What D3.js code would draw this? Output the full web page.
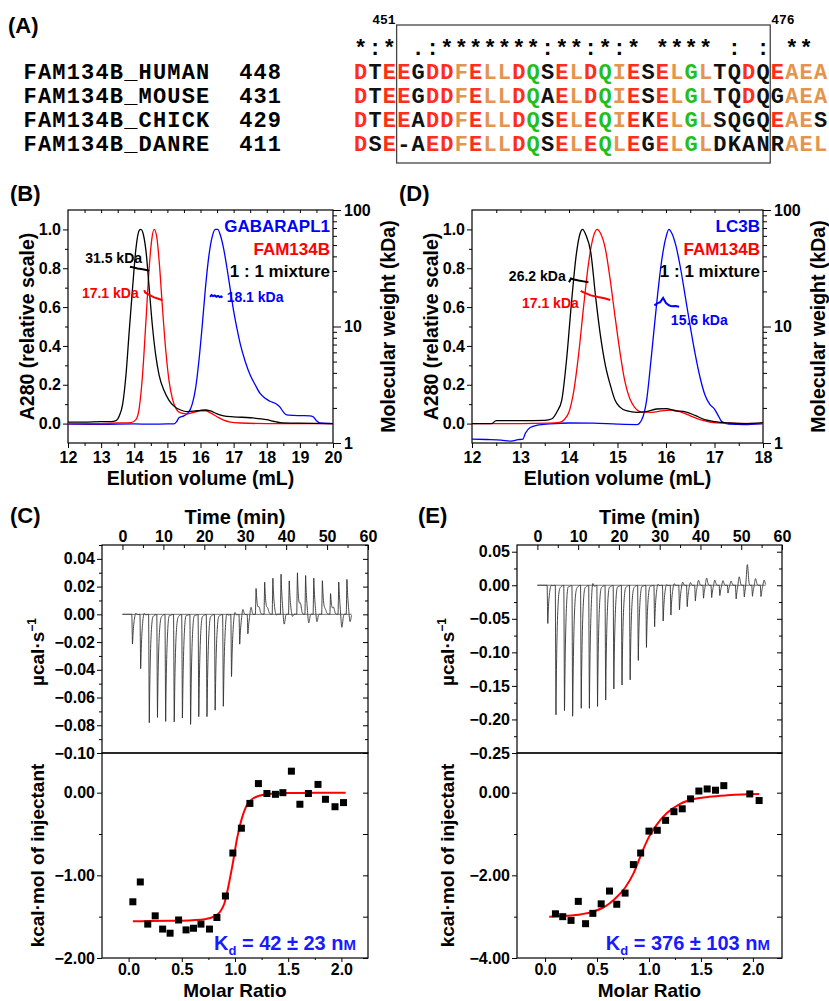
<!DOCTYPE html>
<html>
<head>
<meta charset="utf-8">
<script src="https://cdn.jsdelivr.net/npm/d3@7"></script>
<style>
  html, body { margin: 0; padding: 0; background: #fff; }
  svg { display: block; font-family: 'Liberation Sans', Arial, sans-serif; font-weight: bold; }
  .axis line { stroke: #000; stroke-width: 1; }
  .axis text { font-family: 'Liberation Sans', Arial, sans-serif; font-size: 16px; font-weight: bold; fill: #000; }
  .mono { font-family: 'Liberation Mono', 'Courier New', monospace; font-weight: bold; }
</style>
</head>
<body>
<svg id="fig" width="829" height="1001"></svg>
<script>
// ---- (A) alignment ----
const seqNames = ['FAM134B_HUMAN', 'FAM134B_MOUSE', 'FAM134B_CHICK', 'FAM134B_DANRE'];
const seqStarts = [448, 431, 429, 411];
const seqs = [
  'DTEEGDDFELLDQSELDQIESELGLTQDQEAEA',
  'DTEEGDDFELLDQAELDQIESELGLTQDQGAEA',
  'DTEEADDFELLDQSELEQIEKELGLSQGQEAES',
  'DSE-AEDFELLDQSELEQLEGELGLDKANRAEL',
];
// r red, o orange, g green, k black
const seqColors = [
  'rkrrkrroroorgkrorgorkrogokkrkrooo',
  'rkrrkrroroorgkrorgorkrogokkrkkooo',
  'rkrrkrroroorgkrorgorkrogokkkkrook',
  'rkrkkrroroorgkrorgorkrogokkkkkooo',
];
const conservation = '*:* .:*******:**:*:* **** : : ** ';
const boxRange = [451, 476];

// ---- (B) / (D) SEC-MALS ----
const volTicksB = [12, 13, 14, 15, 16, 17, 18, 19, 20];
const volTicksD = [12, 13, 14, 15, 16, 17, 18];
const absTicks = [0, 0.2, 0.4, 0.6, 0.8, 1.0];
const absMinor = [0.1, 0.3, 0.5, 0.7, 0.9];
const mwTicks = [1, 10, 100];
const mwMinor = [2, 3, 4, 5, 6, 7, 8, 9, 20, 30, 40, 50, 60, 70, 80, 90];

const bMix = [[12, 0.008], [12.5, 0.008], [13, 0.01], [13.3, 0.01], [13.45, 0.015], [13.55, 0.04], [13.65, 0.1], [13.75, 0.25], [13.85, 0.48], [13.95, 0.7], [14.05, 0.9], [14.15, 0.995], [14.2, 1.0], [14.28, 0.97], [14.36, 0.88], [14.45, 0.7], [14.55, 0.5], [14.65, 0.35], [14.75, 0.25], [14.9, 0.17], [15.05, 0.12], [15.2, 0.09], [15.4, 0.07], [15.6, 0.062], [15.8, 0.064], [16.0, 0.068], [16.15, 0.07], [16.3, 0.065], [16.5, 0.05], [16.7, 0.04], [17, 0.035], [17.5, 0.03], [18.0, 0.02], [18.2, 0.012], [18.4, 0.005], [19, 0.002], [20, 0.0]];
const bFam = [[12, 0.0], [13, 0.0], [13.5, 0.003], [13.9, 0.005], [14.05, 0.02], [14.15, 0.08], [14.25, 0.25], [14.35, 0.52], [14.45, 0.8], [14.53, 0.95], [14.6, 1.0], [14.68, 0.96], [14.76, 0.82], [14.85, 0.6], [14.95, 0.38], [15.05, 0.22], [15.15, 0.13], [15.25, 0.08], [15.4, 0.055], [15.6, 0.05], [15.8, 0.058], [16.0, 0.065], [16.15, 0.066], [16.3, 0.055], [16.5, 0.035], [16.7, 0.018], [16.9, 0.008], [17.2, 0.003], [18, 0.0], [20, 0.0]];
const bGab = [[12, -0.003], [13, -0.004], [14, -0.002], [14.5, -0.003], [15, -0.002], [15.2, -0.001], [15.28, 0.01], [15.35, 0.03], [15.5, 0.04], [15.65, 0.06], [15.75, 0.1], [15.85, 0.18], [15.95, 0.32], [16.05, 0.5], [16.15, 0.7], [16.25, 0.86], [16.35, 0.96], [16.45, 1.0], [16.52, 1.0], [16.6, 0.97], [16.7, 0.9], [16.8, 0.8], [16.9, 0.69], [17.0, 0.58], [17.1, 0.49], [17.2, 0.41], [17.35, 0.32], [17.5, 0.25], [17.65, 0.2], [17.8, 0.155], [17.95, 0.13], [18.1, 0.115], [18.3, 0.1], [18.4, 0.085], [18.5, 0.06], [18.6, 0.045], [18.8, 0.042], [19.0, 0.041], [19.3, 0.04], [19.4, 0.035], [19.5, 0.015], [19.6, 0.003], [20, 0.0]];
const bMwMix = [[13.87, 32.6], [13.95, 32.2], [14.1, 31.5], [14.25, 31.0], [14.4, 30.4], [14.45, 30.1]];
const bMwFam = [[14.3, 20.5], [14.33, 19.6], [14.45, 18.7], [14.6, 17.8], [14.75, 17.2], [14.85, 16.8]];
const bMwGab = [[16.29, 18.0], [16.33, 18.6], [16.38, 18.2], [16.43, 18.5], [16.48, 18.0], [16.53, 18.3], [16.58, 17.9], [16.63, 18.1], [16.66, 17.7]];

const dMix = [[12, 0.0], [12.4, 0.0], [12.5, 0.015], [13, 0.015], [13.5, 0.017], [13.65, 0.025], [13.75, 0.06], [13.85, 0.12], [13.95, 0.33], [14.05, 0.62], [14.15, 0.87], [14.23, 0.98], [14.28, 1.0], [14.35, 0.97], [14.45, 0.88], [14.55, 0.65], [14.65, 0.45], [14.75, 0.3], [14.85, 0.2], [14.95, 0.12], [15.05, 0.085], [15.2, 0.065], [15.4, 0.058], [15.6, 0.062], [15.8, 0.075], [16.0, 0.077], [16.2, 0.066], [16.4, 0.06], [16.6, 0.042], [16.8, 0.02], [17.0, 0.01], [17.3, 0.003], [17.6, 0.0], [18, 0.005]];
const dFam = [[12, 0.0], [13, 0.0], [13.6, 0.002], [13.8, 0.006], [13.9, 0.02], [14.0, 0.06], [14.1, 0.17], [14.2, 0.36], [14.3, 0.6], [14.4, 0.82], [14.5, 0.96], [14.58, 1.0], [14.65, 0.98], [14.75, 0.9], [14.85, 0.74], [14.95, 0.55], [15.05, 0.37], [15.15, 0.22], [15.25, 0.13], [15.35, 0.085], [15.5, 0.06], [15.7, 0.058], [15.9, 0.065], [16.1, 0.07], [16.3, 0.06], [16.5, 0.04], [16.7, 0.02], [16.9, 0.008], [17.2, 0.002], [18, 0.0]];
const dLc3 = [[12, -0.08], [12.3, -0.082], [12.6, -0.085], [12.8, -0.09], [12.95, -0.083], [13.05, -0.08], [13.1, -0.05], [13.2, -0.02], [13.35, -0.008], [13.6, -0.002], [14, 0.003], [14.5, 0.002], [15, -0.003], [15.4, -0.005], [15.5, 0.02], [15.6, 0.12], [15.7, 0.35], [15.8, 0.6], [15.9, 0.82], [16.0, 0.96], [16.06, 1.0], [16.12, 0.98], [16.2, 0.92], [16.3, 0.8], [16.4, 0.65], [16.5, 0.5], [16.6, 0.36], [16.7, 0.24], [16.8, 0.15], [16.9, 0.1], [17.0, 0.075], [17.08, 0.04], [17.15, 0.01], [17.3, -0.003], [17.6, -0.005], [18, 0.0]];
const dMwMix = [[14.0, 24.0], [14.04, 25.8], [14.1, 25.3], [14.2, 24.8], [14.3, 24.4], [14.4, 24.0]];
const dMwFam = [[14.24, 20.2], [14.3, 19.6], [14.45, 18.5], [14.6, 17.9], [14.75, 17.4], [14.85, 16.9]];
const dMwLc3 = [[15.76, 15.2], [15.82, 15.8], [15.88, 16.2], [15.94, 17.6], [16.0, 15.9], [16.06, 15.2], [16.12, 14.9], [16.2, 15.0], [16.27, 14.8]];

// ---- (C) / (E) ITC ----
const timeTicks = [0, 10, 20, 30, 40, 50, 60];
const timeMinor = [5, 15, 25, 35, 45, 55];
const ratioTicks = [0, 0.5, 1.0, 1.5, 2.0];
const ratioMinor = [0.25, 0.75, 1.25, 1.75];

const injTimeC = [2.3, 4.3, 6.4, 8.4, 10.4, 12.5, 14.5, 16.5, 18.5, 20.5, 22.5, 24.5, 26.5, 28.5, 30.5, 32.5, 34.6, 36.6, 38.6, 40.6, 42.6, 44.6, 46.6, 48.7, 50.7, 52.7, 54.7];
const injPeakC = [-0.023, -0.042, -0.081, -0.077, -0.080, -0.083, -0.080, -0.085, -0.079, -0.079, -0.074, -0.071, -0.048, -0.023, -0.015, 0.020, 0.024, 0.027, 0.030, 0.025, 0.031, 0.029, 0.027, 0.026, 0.016, 0.025, 0.027];
const injReboundC = [0.002, 0.003, 0.002, 0.001, 0.003, 0.001, 0.003, 0.003, 0.002, 0.002, 0.002, 0.004, 0.004, 0.005, 0.006, 0.004, 0.003, -0.002, -0.009, -0.003, 0.006, -0.008, -0.007, 0.002, 0.004, -0.011, -0.007];
const ratioC = [0.04, 0.11, 0.18, 0.25, 0.32, 0.39, 0.47, 0.54, 0.61, 0.68, 0.76, 0.83, 0.91, 0.98, 1.06, 1.14, 1.22, 1.30, 1.38, 1.45, 1.53, 1.61, 1.69, 1.78, 1.85, 1.94, 2.02];
const heatC = [-1.32, -1.08, -1.59, -1.49, -1.65, -1.70, -1.54, -1.66, -1.64, -1.59, -1.65, -1.51, -1.25, -0.73, -0.43, -0.13, 0.11, -0.01, -0.02, 0.0, 0.26, -0.14, -0.01, 0.10, -0.08, -0.17, -0.12];
const fitC = [[0.04, -1.555], [0.2, -1.553], [0.4, -1.55], [0.6, -1.543], [0.72, -1.53], [0.8, -1.5], [0.86, -1.44], [0.9, -1.34], [0.94, -1.12], [0.98, -0.85], [1.02, -0.55], [1.06, -0.33], [1.1, -0.18], [1.15, -0.09], [1.22, -0.04], [1.3, -0.018], [1.5, -0.005], [1.8, -0.001], [2.04, 0.0]];

const injTimeE = [2.4, 4.4, 6.5, 8.5, 10.6, 12.6, 14.6, 16.6, 18.6, 20.6, 22.6, 24.6, 26.6, 28.6, 30.7, 32.6, 34.7, 36.6, 38.6, 40.6, 42.6, 44.6, 46.6, 48.6, 50.6, 52.6, 54.7];
const injPeakE = [-0.059, -0.200, -0.200, -0.209, -0.190, -0.190, -0.187, -0.177, -0.160, -0.154, -0.146, -0.116, -0.096, -0.064, -0.057, -0.046, -0.039, -0.033, -0.024, -0.020, -0.019, -0.016, -0.012, -0.021, -0.018, -0.017, -0.018];
const injReboundE = [0.003, 0.003, 0.007, 0.002, 0.004, 0.013, 0.004, 0.005, 0.005, 0.003, 0.002, 0.004, 0.003, 0.005, 0.004, 0.005, 0.007, 0.006, 0.009, 0.012, 0.009, 0.008, 0.007, 0.014, 0.032, 0.011, 0.009];
const ratioE = [0.10, 0.17, 0.25, 0.32, 0.39, 0.46, 0.54, 0.62, 0.69, 0.77, 0.85, 0.92, 1.00, 1.08, 1.16, 1.24, 1.32, 1.40, 1.48, 1.56, 1.64, 1.72, 1.97, 2.06];
const heatE = [-2.93, -3.00, -3.09, -2.63, -3.17, -2.92, -2.69, -2.38, -2.70, -2.43, -1.74, -1.46, -0.93, -0.91, -0.67, -0.46, -0.39, -0.15, 0.04, 0.09, 0.06, 0.17, -0.03, -0.19];
const fitE = [[0.04, -3.0], [0.2, -2.98], [0.35, -2.94], [0.46, -2.88], [0.55, -2.79], [0.62, -2.68], [0.7, -2.5], [0.77, -2.3], [0.85, -1.96], [0.94, -1.4], [1.0, -1.07], [1.07, -0.79], [1.17, -0.5], [1.3, -0.27], [1.42, -0.16], [1.58, -0.1], [1.75, -0.065], [1.9, -0.045], [2.06, -0.035]];

const RED = '#ff0000';
const BLUE = '#0000ff';
const seqPalette = { r: '#ff2d1a', o: '#e3954f', g: '#1fbf1f', k: '#111' };

const $svg = d3.select('#fig');

// helpers
const addAxis = ($p, axis, tx, ty) => $p.append('g')
  .attr('class', 'axis')
  .attr('transform', `translate(${tx},${ty})`)
  .call(axis)
  .call(g => g.select('.domain').remove());

const label = ($p, txt, x, y, size, opts = {}) => $p.append('text')
  .attr('x', x).attr('y', y)
  .attr('font-size', size)
  .attr('text-anchor', opts.anchor || 'start')
  .attr('fill', opts.color || '#000')
  .text(txt);

const vLabel = ($p, txt, x, y, size) => $p.append('text')
  .attr('transform', `translate(${x},${y}) rotate(-90)`)
  .attr('text-anchor', 'middle')
  .attr('dy', '0.35em')
  .attr('font-size', size)
  .text(txt);

// panel letters
label($svg, '(A)', 8, 33, 22);
label($svg, '(B)', 10, 201, 22);
label($svg, '(D)', 399, 201, 22);
label($svg, '(C)', 10, 523, 22);
label($svg, '(E)', 418, 523, 22);

// ---------- (A) ----------
function drawAlignment() {
  const col = d3.scaleLinear().domain([0, 1]).range([23, 37.37]);
  const rowY = d3.scalePoint().domain(d3.range(5)).range([55, 150.5]);
  const seqCol0 = 23;
  const $g = $svg.append('g').attr('class', 'mono');

  const putChars = (str, c0, y, colorFn) => {
    $g.append('g').selectAll('text')
      .data(str.split('').map((ch, i) => ({ ch, i })))
      .join('text')
      .attr('x', d => col(c0 + d.i + 0.5))
      .attr('y', y)
      .attr('text-anchor', 'middle')
      .attr('font-size', 22)
      .attr('fill', d => colorFn(d.i))
      .text(d => d.ch);
  };

  putChars(conservation, seqCol0, rowY(0), () => '#000');
  seqs.forEach((s, r) => {
    const y = rowY(r + 1);
    putChars(seqNames[r], 0, y, () => '#000');
    putChars(String(seqStarts[r]), 15, y, () => '#000');
    putChars(s, seqCol0, y, i => seqPalette[seqColors[r][i]]);
  });

  // box around 451..476
  const bx0 = col(seqCol0 + (boxRange[0] - seqStarts[0]));
  const bx1 = col(seqCol0 + (boxRange[1] - seqStarts[0]) + 1);
  $svg.append('rect')
    .attr('x', bx0).attr('y', 25)
    .attr('width', bx1 - bx0).attr('height', 138)
    .attr('fill', 'none').attr('stroke', '#444').attr('stroke-width', 1.3);
  $g.append('text').attr('x', bx0 - 1).attr('y', 24).attr('font-size', 13)
    .attr('text-anchor', 'end').text(boxRange[0]);
  $g.append('text').attr('x', bx1 + 1).attr('y', 24).attr('font-size', 13)
    .text(boxRange[1]);
}
drawAlignment();

// ---------- (B) / (D) ----------
const secTop = 210;
const secBottom = 443;

function drawSec(opt) {
  const $g = $svg.append('g');
  const [x0, x1] = opt.xDomain;
  const x = d3.scaleLinear().domain(opt.xDomain).range([opt.left, opt.right]);
  const y = d3.scaleLinear().domain([-0.1, 1.1]).range([secBottom, secTop]);
  const yMw = d3.scaleLog().domain([1, 100]).range([secBottom, secTop]);

  addAxis($g, d3.axisBottom(x).tickValues(opt.xTicks).tickFormat(d => `${d}`).tickSize(5).tickPadding(4), 0, secBottom);
  addAxis($g, d3.axisBottom(x).tickValues(opt.xTicks.slice(1).map(v => v - 0.5)).tickSize(3).tickFormat(''), 0, secBottom);
  addAxis($g, d3.axisTop(x).tickValues(d3.range(x0 + 0.5, x1, 0.5)).tickSize(-3).tickFormat(''), 0, secTop);
  addAxis($g, d3.axisLeft(y).tickValues(absTicks).tickFormat(d3.format('.1f')).tickSize(5).tickPadding(2), opt.left, 0);
  addAxis($g, d3.axisLeft(y).tickValues(absMinor).tickSize(3).tickFormat(''), opt.left, 0);
  addAxis($g, d3.axisRight(yMw).tickValues(mwTicks).tickFormat(d => `${d}`).tickSize(8).tickPadding(3), opt.right, 0);
  addAxis($g, d3.axisRight(yMw).tickValues(mwMinor).tickSize(4).tickFormat(''), opt.right, 0);

  $g.append('rect')
    .attr('x', opt.left).attr('y', secTop)
    .attr('width', opt.right - opt.left).attr('height', secBottom - secTop)
    .attr('fill', 'none').attr('stroke', '#000').attr('stroke-width', 1.2);

  const absLine = d3.line().x(d => x(d[0])).y(d => y(d[1])).curve(d3.curveMonotoneX);
  const mwLine = d3.line().x(d => x(d[0])).y(d => yMw(d[1]));

  opt.series.forEach(s => {
    $g.append('path').datum(s.abs)
      .attr('d', absLine)
      .attr('fill', 'none').attr('stroke', s.color).attr('stroke-width', 1.3);
  });
  opt.series.forEach(s => {
    $g.append('path').datum(s.mw)
      .attr('d', mwLine)
      .attr('fill', 'none').attr('stroke', s.color).attr('stroke-width', 2);
    label($g, s.mwText, x(s.mwAt[0]), y(s.mwAt[1]), 14, { color: s.color });
  });

  opt.legend.forEach((l, i) => {
    label($g, l.text, opt.right - 3, 232 + i * 22.5, 17, { anchor: 'end', color: l.color });
  });

  vLabel($g, 'A280 (relative scale)', opt.left - 41, (secTop + secBottom) / 2, 19.5);
  vLabel($g, 'Molecular weight (kDa)', opt.right + 55, (secTop + secBottom) / 2, 19.5);
  label($g, 'Elution volume (mL)', (opt.left + opt.right) / 2, 485, 19.5, { anchor: 'middle' });
}

drawSec({
  left: 68,
  right: 333,
  xDomain: [12, 20],
  xTicks: volTicksB,
  series: [
    { abs: bGab, mw: bMwGab, color: BLUE, mwText: '18.1 kDa', mwAt: [16.79, 0.626] },
    { abs: bFam, mw: bMwFam, color: RED, mwText: '17.1 kDa', mwAt: [12.42, 0.646] },
    { abs: bMix, mw: bMwMix, color: '#000', mwText: '31.5 kDa', mwAt: [12.52, 0.827] },
  ],
  legend: [
    { text: 'GABARAPL1', color: BLUE },
    { text: 'FAM134B', color: RED },
    { text: '1 : 1 mixture', color: '#000' },
  ],
});

drawSec({
  left: 472,
  right: 763,
  xDomain: [12, 18],
  xTicks: volTicksD,
  series: [
    { abs: dLc3, mw: dMwLc3, color: BLUE, mwText: '15.6 kDa', mwAt: [16.1, 0.508] },
    { abs: dFam, mw: dMwFam, color: RED, mwText: '17.1 kDa', mwAt: [13.03, 0.595] },
    { abs: dMix, mw: dMwMix, color: '#000', mwText: '26.2 kDa', mwAt: [12.76, 0.734] },
  ],
  legend: [
    { text: 'LC3B', color: BLUE },
    { text: 'FAM134B', color: RED },
    { text: '1 : 1 mixture', color: '#000' },
  ],
});

// ---------- (C) / (E) ----------
const itcTop = 545;
const itcMid = 753;
const itcBottom = 958;

// raw thermogram from read injection peaks
function rawTrace(times, peaks, rebounds) {
  const pts = [];
  for (let s = 0; s <= 56; s += 0.04) {
    let v = 0;
    times.forEach((t0, i) => {
      const dt = s - t0;
      if (dt < 0) return;
      const spike = dt < 0.15 ? dt / 0.15 : Math.exp(-(dt - 0.15) / 0.28);
      v += peaks[i] * spike + rebounds[i] * Math.exp(-(((dt - 0.9) / 0.3) ** 2));
    });
    pts.push([s, v]);
  }
  return pts;
}

function drawItc(opt) {
  const $g = $svg.append('g');
  const { left, right } = opt;
  const t = d3.scaleLinear().domain([-5, 60]).range([left, right]);
  const yRaw = d3.scaleLinear().domain(opt.rawDomain).range([itcMid, itcTop]);
  const xr = d3.scaleLinear().domain(opt.ratioDomain).range([left, right]);
  const yH = d3.scaleLinear().domain(opt.heatDomain).range([itcBottom, itcMid]);

  // upper axes
  addAxis($g, d3.axisTop(t).tickValues(timeTicks).tickFormat(d => `${d}`).tickSize(-5).tickPadding(3), 0, itcTop);
  addAxis($g, d3.axisTop(t).tickValues(timeMinor).tickSize(-3).tickFormat(''), 0, itcTop);
  addAxis($g, d3.axisLeft(yRaw).tickValues(opt.rawTicks).tickFormat(d3.format('.2f')).tickSize(5).tickPadding(2), left, 0);
  addAxis($g, d3.axisLeft(yRaw).tickValues(opt.rawMinor).tickSize(3).tickFormat(''), left, 0);
  addAxis($g, d3.axisRight(yRaw).tickValues(opt.rawTicks).tickSize(-5).tickFormat(''), right, 0);
  addAxis($g, d3.axisRight(yRaw).tickValues(opt.rawMinor).tickSize(-3).tickFormat(''), right, 0);

  // lower axes
  addAxis($g, d3.axisBottom(xr).tickValues(ratioTicks).tickFormat(d3.format('.1f')).tickSize(4).tickPadding(2), 0, itcBottom);
  addAxis($g, d3.axisBottom(xr).tickValues(ratioMinor).tickSize(2).tickFormat(''), 0, itcBottom);
  addAxis($g, d3.axisLeft(yH).tickValues(opt.heatTicks).tickFormat(d3.format('.2f')).tickSize(5).tickPadding(2), left, 0);
  addAxis($g, d3.axisLeft(yH).tickValues(opt.heatMinor).tickSize(3).tickFormat(''), left, 0);
  addAxis($g, d3.axisRight(yH).tickValues(opt.heatTicks.concat(opt.heatMinor)).tickSize(-5).tickFormat(''), right, 0);

  [[itcTop, itcMid], [itcMid, itcBottom]].forEach(([a, b]) => {
    $g.append('rect')
      .attr('x', left).attr('y', a)
      .attr('width', right - left).attr('height', b - a)
      .attr('fill', 'none').attr('stroke', '#000').attr('stroke-width', 1.2);
  });

  // baseline + thermogram
  $g.append('line')
    .attr('x1', t(0)).attr('x2', t(56))
    .attr('y1', yRaw(0)).attr('y2', yRaw(0))
    .attr('stroke', '#777').attr('stroke-width', 1);
  $g.append('path')
    .datum(rawTrace(opt.injTime, opt.injPeak, opt.injRebound))
    .attr('d', d3.line().x(d => t(d[0])).y(d => yRaw(d[1])))
    .attr('fill', 'none').attr('stroke', '#333').attr('stroke-width', 0.9);

  // integrated heats + fit
  $g.append('path').datum(opt.fit)
    .attr('d', d3.line().x(d => xr(d[0])).y(d => yH(d[1])).curve(d3.curveMonotoneX))
    .attr('fill', 'none').attr('stroke', RED).attr('stroke-width', 2);
  $g.append('g').selectAll('rect')
    .data(opt.ratio.map((r, i) => [r, opt.heat[i]]))
    .join('rect')
    .attr('x', d => xr(d[0]) - 3.5).attr('y', d => yH(d[1]) - 3.5)
    .attr('width', 7).attr('height', 7)
    .attr('fill', '#000');

  // Kd
  const $kd = $g.append('text')
    .attr('x', right - 12).attr('y', 950)
    .attr('text-anchor', 'end').attr('font-size', 20).attr('fill', '#1a1aff');
  $kd.append('tspan').text('K');
  $kd.append('tspan').attr('font-size', 13).attr('dy', 5).text('d');
  $kd.append('tspan').attr('dy', -5).text(` = ${opt.kd} n`);
  $kd.append('tspan').attr('font-size', 15).text('M');

  // titles
  label($g, 'Time (min)', (left + right) / 2, 524, 20, { anchor: 'middle' });
  label($g, 'Molar Ratio', (left + right) / 2, 997, 19, { anchor: 'middle' });
  const $mu = $g.append('text')
    .attr('transform', `translate(${opt.titleX},${(itcTop + itcMid) / 2 + 3}) rotate(-90)`)
    .attr('text-anchor', 'middle').attr('dy', '0.35em').attr('font-size', 19);
  $mu.append('tspan').text('µcal·s');
  $mu.append('tspan').attr('font-size', 12).attr('dy', -8).text('−1');
  vLabel($g, 'kcal·mol of injectant', opt.titleX, (itcMid + itcBottom) / 2, 19);
}

drawItc({
  left: 102,
  right: 368,
  titleX: 37,
  rawDomain: [-0.1, 0.05],
  rawTicks: [-0.10, -0.08, -0.06, -0.04, -0.02, 0.00, 0.02, 0.04],
  rawMinor: [-0.09, -0.07, -0.05, -0.03, -0.01, 0.01, 0.03, 0.05],
  ratioDomain: [-0.25, 2.25],
  heatDomain: [-2, 0.48],
  heatTicks: [-2, -1, 0],
  heatMinor: [-1.5, -0.5],
  injTime: injTimeC,
  injPeak: injPeakC,
  injRebound: injReboundC,
  ratio: ratioC,
  heat: heatC,
  fit: fitC,
  kd: '42 ± 23',
});

drawItc({
  left: 517,
  right: 782,
  titleX: 447,
  rawDomain: [-0.25, 0.06],
  rawTicks: [-0.25, -0.20, -0.15, -0.10, -0.05, 0.00, 0.05],
  rawMinor: [-0.225, -0.175, -0.125, -0.075, -0.025, 0.025],
  ratioDomain: [-0.27, 2.28],
  heatDomain: [-4, 0.96],
  heatTicks: [-4, -2, 0],
  heatMinor: [-3, -1],
  injTime: injTimeE,
  injPeak: injPeakE,
  injRebound: injReboundE,
  ratio: ratioE,
  heat: heatE,
  fit: fitE,
  kd: '376 ± 103',
});
</script>
</body>
</html>
